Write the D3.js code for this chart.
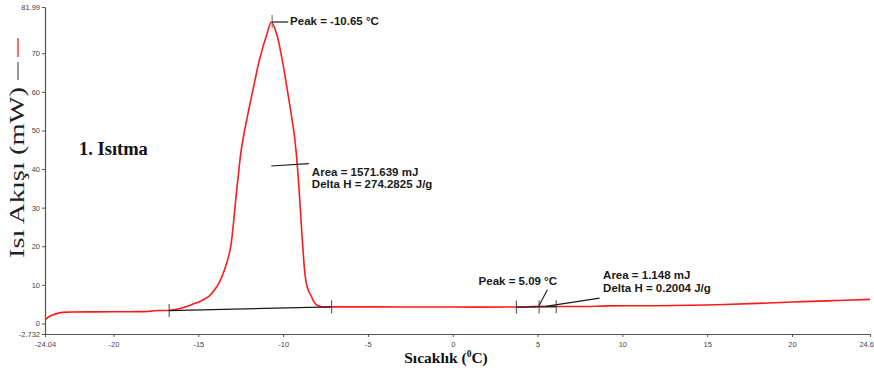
<!DOCTYPE html>
<html>
<head>
<meta charset="utf-8">
<script src="https://cdn.jsdelivr.net/npm/d3@7/dist/d3.min.js"></script>
<style>
  html, body { margin: 0; padding: 0; background: #fff; }
  svg { display: block; }
</style>
</head>
<body>
<svg id="chart" width="874" height="372"></svg>
<script>
// DSC heating curve: temperature (°C) vs heat flow (mW)
const temperature = [-24.04, -23.7, -23.2, -22.5, -21, -19, -18, -17.6, -16.7, -16.2, -15.8, -15.37, -14.9, -14.6, -14.36,
  -14.05, -13.77, -13.45, -13.12, -12.95, -12.82, -12.65, -12.49, -12.28, -12.02, -11.71, -11.39, -10.96, -10.69,
  -10.38, -10.06, -9.81, -9.57, -9.36, -9.22, -9.11, -9.02, -8.93, -8.83, -8.74, -8.64, -8.5, -8.34, -8.21, -8.05,
  -7.85, -7.62, -7.14, -3, 0, 3.6, 4.5, 5.09, 5.8, 8.5, 9.0, 12, 15, 18, 20, 22, 24.6];
const heatFlow = [1.0, 2.0, 2.75, 2.95, 3.0, 3.05, 3.1, 3.3, 3.4, 3.75, 4.25, 4.93, 5.7, 6.4, 7.1,
  8.66, 10.6, 14.0, 19.2, 25.0, 31.0, 38.0, 44.3, 49.8, 55.5, 62.0, 68.4, 74.9, 78.1,
  74.9, 68.4, 62.0, 55.5, 49.5, 43.8, 37.8, 32.1, 25.7, 19.2, 14.0, 10.6, 8.4, 7.1, 5.8, 4.9,
  4.45, 4.25, 4.3, 4.27, 4.25, 4.25, 4.32, 4.42, 4.38, 4.45, 4.55, 4.6, 4.8, 5.2, 5.55, 5.85, 6.25];

// Axis extents and ticks
const xDomain = [-24.04, 24.6];
const yDomain = [-2.732, 81.99];
const xTicks = [-24.04, -20, -15, -10, -5, 0, 5, 10, 15, 20, 24.6];
const yTicks = [-2.732, 0, 10, 20, 30, 40, 50, 60, 70, 81.99];

// Integration baselines (start, end temperature and heat flow)
const baselineT = [[-16.72, -7.14], [3.75, 6.1]];
const baselineV = [[3.35, 4.3], [4.25, 4.35]];
// Peak markers
const peakT = [-10.65, 5.09];
const peakV = [78.1, 4.42];
const peakText = ["Peak = -10.65 °C", "Peak = 5.09 °C"];
const areaText = [["Area = 1571.639 mJ", "Delta H = 274.2825 J/g"], ["Area = 1.148 mJ", "Delta H = 0.2004 J/g"]];

const svg = d3.select("#chart");
const x = d3.scaleLinear().domain(xDomain).range([45, 870]);
const y = d3.scaleLinear().domain(yDomain).range([334, 7]);

const axisColor = "#555";
const labelFont = "'Liberation Sans Narrow', 'Liberation Sans', Arial, sans-serif";
const serif = "'Liberation Serif', 'Times New Roman', serif";

// Axes
const xAxis = svg.append("g").attr("transform", "translate(0,334)")
  .call(d3.axisBottom(x).tickValues(xTicks).tickFormat(d => String(d)).tickSize(3).tickSizeOuter(0));
const yAxis = svg.append("g").attr("transform", "translate(45,0)")
  .call(d3.axisLeft(y).tickValues(yTicks).tickFormat(d => String(d)).tickSize(3).tickSizeOuter(0));
[xAxis, yAxis].forEach(g => {
  g.select(".domain").attr("stroke", axisColor).attr("stroke-width", 1.2);
  g.selectAll(".tick line").attr("stroke", axisColor);
  g.selectAll(".tick text").attr("fill", "#444").style("font-family", labelFont).style("font-size", "7.5px");
});
xAxis.selectAll(".tick text").attr("y", 8);
// keep the last label inside the frame
xAxis.selectAll(".tick text").filter(d => d === xTicks[xTicks.length - 1])
  .attr("text-anchor", "end").attr("x", 3.5);
yAxis.selectAll(".tick text").attr("x", -5);

// Heat-flow curve
const pts = temperature.map((t, i) => [t, heatFlow[i]]);
svg.append("path")
  .datum(pts)
  .attr("fill", "none")
  .attr("stroke", "#ff1a1a")
  .attr("stroke-width", 1.6)
  .attr("d", d3.line().x(d => x(d[0])).y(d => y(d[1])).curve(d3.curveCatmullRom.alpha(0.5)));

// Baselines with end ticks
const ink = "#1a1a1a";
baselineT.forEach((bt, i) => {
  const bv = baselineV[i];
  svg.append("line")
    .attr("x1", x(bt[0])).attr("y1", y(bv[0]))
    .attr("x2", x(bt[1])).attr("y2", y(bv[1]))
    .attr("stroke", ink).attr("stroke-width", 1.2);
  const marks = [bt[0], bt[1]];
  if (i === 1) marks.push(peakT[1]);
  marks.forEach(t => {
    const v = bv[0] + (bv[1] - bv[0]) * (t - bt[0]) / (bt[1] - bt[0]);
    svg.append("line")
      .attr("x1", x(t)).attr("x2", x(t))
      .attr("y1", y(v) - 6.5).attr("y2", y(v) + 6.5)
      .attr("stroke", "#444").attr("stroke-width", 1);
  });
});

// Annotation text helper
function note(tx, ty, str) {
  svg.append("text")
    .attr("x", tx).attr("y", ty)
    .attr("dominant-baseline", "middle")
    .style("font-family", labelFont)
    .style("font-weight", "bold")
    .style("font-size", "11.5px")
    .attr("fill", "#1a1a1a")
    .text(str);
}

// First peak: marker, leader and labels
const p1x = x(peakT[0]), p1y = y(peakV[0]);
svg.append("line").attr("x1", p1x).attr("x2", p1x).attr("y1", p1y - 7).attr("y2", p1y + 6)
  .attr("stroke", "#666").attr("stroke-width", 1);
svg.append("line").attr("x1", p1x).attr("x2", p1x + 16).attr("y1", p1y).attr("y2", p1y)
  .attr("stroke", ink).attr("stroke-width", 1.2);
note(p1x + 18, p1y, peakText[0]);

const a1x = x(-10.7), a1y = y(40.8);
svg.append("line").attr("x1", a1x).attr("y1", a1y).attr("x2", a1x + 37.6).attr("y2", a1y - 2.4)
  .attr("stroke", ink).attr("stroke-width", 1.2);
note(a1x + 40.6, a1y + 6.6, areaText[0][0]);
note(a1x + 40.6, a1y + 19, areaText[0][1]);

// Second peak: leaders and labels
const p2x = x(peakT[1]), p2y = y(peakV[1]);
svg.append("line").attr("x1", p2x).attr("y1", p2y - 1).attr("x2", p2x + 8.3).attr("y2", p2y - 16.7)
  .attr("stroke", ink).attr("stroke-width", 1.1);
note(p2x - 60.5, p2y - 24, peakText[1]);

svg.append("line").attr("x1", p2x + 6.5).attr("y1", p2y).attr("x2", p2x + 60.6).attr("y2", p2y - 8.3)
  .attr("stroke", ink).attr("stroke-width", 1.1);
note(p2x + 64, p2y - 30.7, areaText[1][0]);
note(p2x + 64, p2y - 17.4, areaText[1][1]);

// Series markers at the left edge
svg.append("line").attr("x1", 18).attr("x2", 18).attr("y1", 38).attr("y2", 57)
  .attr("stroke", "#ff1a1a").attr("stroke-width", 1.3);
svg.append("line").attr("x1", 18).attr("x2", 18).attr("y1", 62).attr("y2", 80)
  .attr("stroke", "#666").attr("stroke-width", 1.3);

// Axis titles
svg.append("text")
  .attr("transform", "translate(24,172.5) rotate(-90)")
  .attr("text-anchor", "middle")
  .attr("textLength", 171)
  .attr("lengthAdjust", "spacingAndGlyphs")
  .style("font-family", serif)
  .style("font-size", "20px")
  .attr("fill", "#222")
  .text("Isı Akışı (mW)");

const xt = svg.append("text")
  .attr("x", 446).attr("y", 363)
  .attr("text-anchor", "middle")
  .style("font-family", serif)
  .style("font-weight", "bold")
  .style("font-size", "15.5px")
  .attr("fill", "#111");
xt.append("tspan").text("Sıcaklık (");
xt.append("tspan").attr("dy", -6).style("font-size", "9.5px").text("0");
xt.append("tspan").attr("dy", 6).text("C)");

// Chart title
svg.append("text")
  .attr("x", 79).attr("y", 155)
  .style("font-family", serif)
  .style("font-weight", "bold")
  .style("font-size", "18.5px")
  .attr("fill", "#111")
  .text("1. Isıtma");
</script>
</body>
</html>
